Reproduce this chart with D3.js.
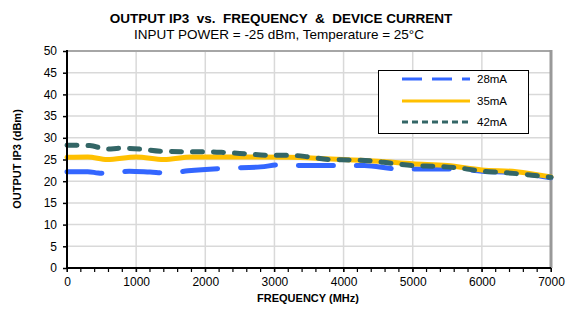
<!DOCTYPE html>
<html><head><meta charset="utf-8">
<script src="https://cdn.jsdelivr.net/npm/d3@7"></script>
<style>body{margin:0;background:#fff}svg{display:block;font-family:"Liberation Sans",Arial,sans-serif}</style>
</head><body><svg id="c" width="568" height="311"></svg>
<script>
const xTicks = [0,1000,2000,3000,4000,5000,6000,7000];
const yTicks = [0,5,10,15,20,25,30,35,40,45,50];
const seriesNames = ["28mA","35mA","42mA"];
const freq28 = [0,300,450,600,900,1200,1450,1750,2300,2800,3100,3400,4000,4300,4800,5600,6000,6500,7000];
const ip3_28 = [22.2,22.2,21.9,21.8,22.3,22.1,21.9,22.4,23.0,23.3,23.8,23.6,23.6,23.6,22.8,22.8,22.3,21.9,20.8];
const freq35 = [0,300,580,1000,1400,1800,2500,3200,3600,4000,4500,5000,5500,6000,6500,7000];
const ip3_35 = [25.5,25.6,25.0,25.6,25.0,25.6,25.6,25.5,25.3,25.0,24.6,24.0,23.6,22.6,22.2,21.0];
const freq42 = [0,330,580,770,1050,1350,1700,2000,2300,2600,2900,3200,3500,3800,4100,4400,4700,5000,5400,5700,6000,6300,6600,7000];
const ip3_42 = [28.3,28.2,27.4,27.6,27.4,26.9,26.8,26.8,26.6,26.3,26.0,26.0,25.6,25.0,24.9,24.7,24.1,23.6,23.4,23.0,22.3,22.0,21.6,20.9];

const svg = d3.select("#c");
const L=67,R=551,T=51,B=268;
const x = d3.scaleLinear().domain([0,7000]).range([L,R]);
const y = d3.scaleLinear().domain([0,50]).range([B,T]);

// grid
svg.append("g").selectAll("line").data(yTicks.filter(d=>d>0&&d<50)).join("line")
 .attr("x1",L).attr("x2",R).attr("y1",d=>y(d)).attr("y2",d=>y(d)).attr("stroke","#d9d9d9").attr("stroke-width",1.5);
svg.append("g").selectAll("line").data(xTicks.filter(d=>d>0&&d<7000)).join("line")
 .attr("y1",T).attr("y2",B).attr("x1",d=>x(d)).attr("x2",d=>x(d)).attr("stroke","#d9d9d9").attr("stroke-width",1.5);
// frame
svg.append("line").attr("x1",L).attr("x2",R).attr("y1",T).attr("y2",T).attr("stroke","#a6a6a6").attr("stroke-width",2);
svg.append("line").attr("x1",R).attr("x2",R).attr("y1",T-1).attr("y2",B).attr("stroke","#999").attr("stroke-width",3);

// series
const line = d3.line().x(d=>x(d[0])).y(d=>y(d[1])).curve(d3.curveMonotoneX);
const styles = [
 {c:"#3366ff", dash:"35,23", w:5},
 {c:"#ffc000", dash:null, w:5},
 {c:"#336666", dash:"10,11", w:5}
];
const data = [d3.zip(freq28,ip3_28), d3.zip(freq35,ip3_35), d3.zip(freq42,ip3_42)];
const plot = svg.append("g");
data.forEach((d,i)=>{
 const p = plot.append("path").attr("d",line(d)).attr("fill","none").attr("stroke",styles[i].c)
  .attr("stroke-width",styles[i].w).attr("stroke-linecap","round").attr("stroke-linejoin","round");
 if(styles[i].dash) p.attr("stroke-dasharray",styles[i].dash);
});

// axes
const yAx = svg.append("g").attr("transform",`translate(${L},0)`)
 .call(d3.axisLeft(y).tickValues(yTicks).tickSize(4).tickPadding(6).tickFormat(d3.format("d")));
yAx.select(".domain").attr("stroke","#000").attr("stroke-width",2).attr("d",`M0,${T-1}V${B}`);
yAx.selectAll("text").attr("font-size",12).attr("fill","#000").attr("font-family","Liberation Sans, Arial");
yAx.selectAll(".tick line").attr("stroke-width",1.5);

const minor = d3.range(0,7001,200);
svg.append("g").attr("transform",`translate(0,${B})`).selectAll("line").data(minor).join("line")
 .attr("x1",d=>x(d)).attr("x2",d=>x(d)).attr("y1",0).attr("y2",4).attr("stroke","#000").attr("stroke-width",1.2);
const xAx = svg.append("g").attr("transform",`translate(0,${B})`)
 .call(d3.axisBottom(x).tickValues(xTicks).tickSize(4).tickPadding(5).tickFormat(d3.format("d")));
xAx.select(".domain").attr("stroke","#000").attr("stroke-width",2).attr("d",`M${L-1},0H${R}`);
xAx.selectAll("text").attr("font-size",12).attr("fill","#000").attr("font-family","Liberation Sans, Arial");

// titles
svg.append("text").attr("x",281).attr("y",23).attr("text-anchor","middle").attr("font-weight","bold").attr("font-size",13.5)
 .text("OUTPUT IP3  vs.  FREQUENCY  &  DEVICE CURRENT").attr("xml:space","preserve").style("white-space","pre");
svg.append("text").attr("x",279).attr("y",39).attr("text-anchor","middle").attr("font-size",13.5)
 .text("INPUT POWER = -25 dBm, Temperature = 25°C");
svg.append("text").attr("x",308).attr("y",302).attr("text-anchor","middle").attr("font-weight","bold").attr("font-size",11)
 .text("FREQUENCY (MHz)");
svg.append("text").attr("transform","translate(21,159) rotate(-90)").attr("text-anchor","middle").attr("font-weight","bold").attr("font-size",11)
 .text("OUTPUT IP3 (dBm)");

// legend
const lg = svg.append("g");
lg.append("rect").attr("x",378.5).attr("y",70.5).attr("width",150).attr("height",63).attr("fill","#fff").attr("stroke","#000").attr("stroke-width",1);
const lstyles = [{dash:"20,10"},{dash:null},{dash:"6,4"}];
const ly = [79,101,122];
seriesNames.forEach((n,i)=>{
 const l = lg.append("line").attr("x1",402).attr("x2",470).attr("y1",ly[i]).attr("y2",ly[i])
  .attr("stroke",styles[i].c).attr("stroke-width",3);
 if(lstyles[i].dash) l.attr("stroke-dasharray",lstyles[i].dash);
 lg.append("text").attr("x",477).attr("y",ly[i]+4).attr("font-size",11.5).text(n);
});
</script></body></html>
